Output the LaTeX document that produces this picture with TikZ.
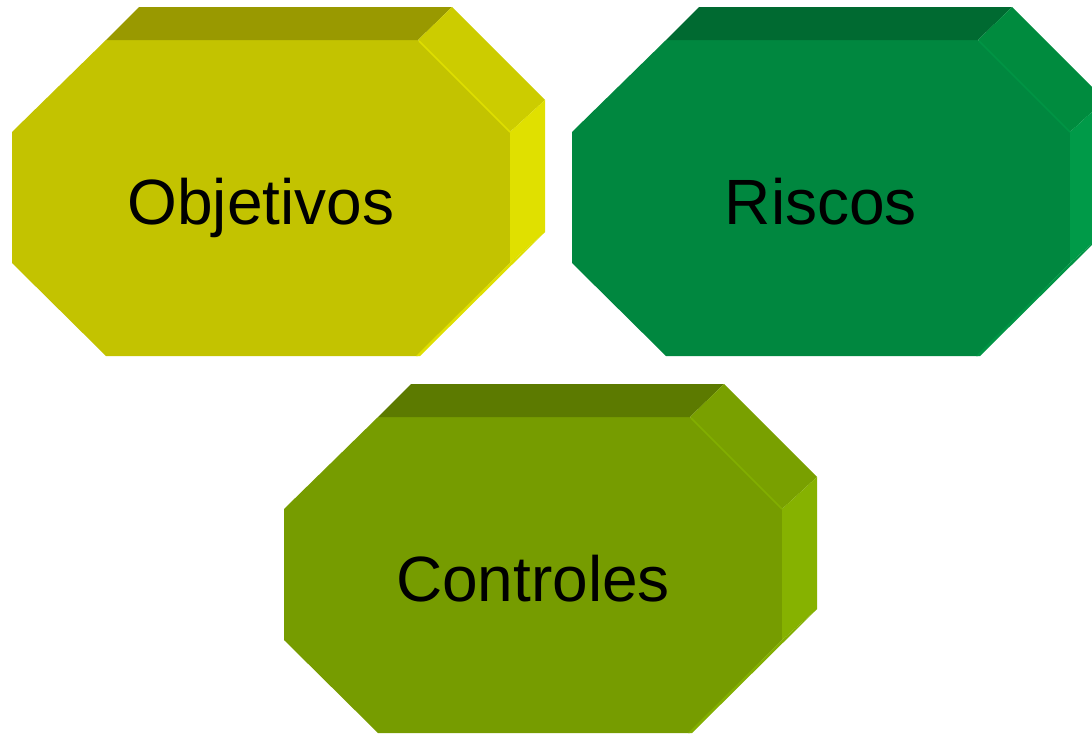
\documentclass[tikz,border=0pt]{standalone}
\usepackage{fontspec}
\setmainfont{Liberation Sans}
\definecolor{objF}{HTML}{C3C300}
\definecolor{objT}{HTML}{999900}
\definecolor{objC}{HTML}{CCCC00}
\definecolor{objS}{HTML}{E0E000}
\definecolor{objH}{HTML}{DEDE00}
\definecolor{risF}{HTML}{00873F}
\definecolor{risT}{HTML}{006A31}
\definecolor{risC}{HTML}{008B3E}
\definecolor{risS}{HTML}{009A48}
\definecolor{risH}{HTML}{009444}
\definecolor{conF}{HTML}{769C00}
\definecolor{conT}{HTML}{5C7A00}
\definecolor{conC}{HTML}{79A000}
\definecolor{conS}{HTML}{86B200}
\definecolor{conH}{HTML}{82AE00}
\tikzset{gemlabel/.style={font=\fontsize{64}{76}\selectfont, text=black, anchor=base, inner sep=0pt}}
\newcommand\gemshape[6]{%
\begin{scope}[shift={(#1)}]
\fill[#2] (12,132)--(106,40)--(418,40)--(510,132)--(510,263)--(418,356)--(106,356)--(12,263)--cycle;
\fill[#3] (106,40)--(139,7)--(452,7)--(418,40)--cycle;
\fill[#4] (418,40)--(452,7)--(545,100)--(510,132)--cycle;
\fill[#5] (510,132)--(545,100)--(545,232)--(510,263)--cycle;
\fill[#6] (510,263)--(545,232)--(420,356)--(416,356)--cycle;
\draw[#6, line width=1.5pt] (419,41)--(510,132);
\end{scope}}
\begin{document}
\begin{tikzpicture}[x=1pt,y=-1pt]
\useasboundingbox (0,0) rectangle (1092,734);
\clip (0,0) rectangle (1092,734);
\gemshape{0,0}{objF}{objT}{objC}{objS}{objH}
\gemshape{560,0}{risF}{risT}{risC}{risS}{risH}
\gemshape{272,377}{conF}{conT}{conC}{conS}{conH}
\node[gemlabel] (obj) at (261,224) {Objetivos};
\node[gemlabel] (ris) at (821,224) {Riscos};
\node[gemlabel] (con) at (533,601) {Controles};
\end{tikzpicture}
\end{document}
